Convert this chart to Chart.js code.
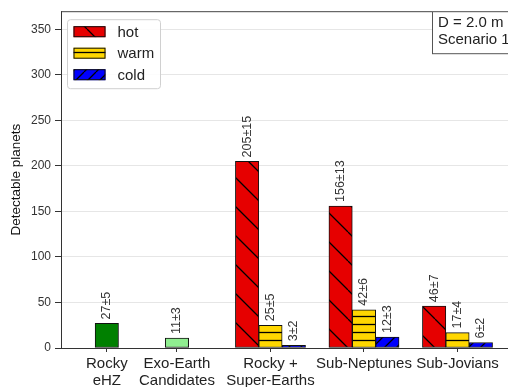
<!DOCTYPE html>
<html>
<head>
<meta charset="utf-8">
<script src="https://cdn.jsdelivr.net/npm/chart.js@4.4.0/dist/chart.umd.min.js"></script>
<style>
  html, body { margin: 0; padding: 0; background: #fff; overflow: hidden; }
</style>
</head>
<body>
<canvas id="planetChart" width="508" height="387"></canvas>
<script>
// Categorias do eixo x e as suas posições
const categories = [['Rocky', 'eHZ'], ['Exo-Earth', 'Candidates'], ['Rocky +', 'Super-Earths'], ['Sub-Neptunes'], ['Sub-Jovians']];
const categoryPos = [0, 0.75, 1.75, 2.75, 3.75];
const yTicks = [0, 50, 100, 150, 200, 250, 300, 350];

// Valores
const rockyEhzValues = [27];
const rockyEhzLabels = ['27±5'];
const exoEarthValues = [11];
const exoEarthLabels = ['11±3'];
const hotValues = [205, 156, 46];
const hotLabels = ['205±15', '156±13', '46±7'];
const warmValues = [25, 42, 17];
const warmLabels = ['25±5', '42±6', '17±4'];
const coldValues = [3, 12, 6];
const coldLabels = ['3±2', '12±3', '6±2'];

const tempNames = ['hot', 'warm', 'cold'];
const infoLines = ['D = 2.0 m', 'Scenario 1'];

const FONT = "'Liberation Sans', Arial, sans-serif";

// Padrões de tracejado (hatch)
function makeHatch(color, kind, size) {
    const c = document.createElement('canvas');
    c.width = size;
    c.height = size;
    const g = c.getContext('2d');
    g.fillStyle = color;
    g.fillRect(0, 0, size, size);
    g.strokeStyle = '#000';
    g.lineWidth = 1.3;
    g.beginPath();
    if (kind === '-') {
        g.moveTo(0, size / 2 + 0.5);
        g.lineTo(size, size / 2 + 0.5);
    } else {
        for (let k = -1; k <= 1; k++) {
            if (kind === '\\') {
                g.moveTo(k * size, 0);
                g.lineTo(k * size + size, size);
            } else {
                g.moveTo(k * size, size);
                g.lineTo(k * size + size, 0);
            }
        }
    }
    g.stroke();
    return g.createPattern(c, 'repeat');
}

const hotFill = makeHatch('#e60000', '\\', 29);
const warmFill = makeHatch('#ffd700', '-', 8);
const coldFill = makeHatch('#0000ff', '/', 12);
const tempFills = [hotFill, warmFill, coldFill];

const groupPos = categoryPos.slice(2);

function barDataset(values, labels, offset, positions, fill) {
    return {
        data: values.map((v, i) => ({ x: positions[i] + offset, y: v })),
        valueLabels: labels,
        backgroundColor: fill,
        borderColor: '#111',
        borderWidth: 1,
        borderSkipped: false,
        grouped: false,
        barPercentage: 1,
        categoryPercentage: 1
    };
}

// Rótulos verticais acima das barras
const valueLabelPlugin = {
    id: 'valueLabels',
    afterDatasetsDraw(chart) {
        const ctx = chart.ctx;
        ctx.save();
        ctx.fillStyle = '#333';
        ctx.font = '12.5px ' + FONT;
        ctx.textAlign = 'left';
        ctx.textBaseline = 'middle';
        chart.data.datasets.forEach((ds, di) => {
            chart.getDatasetMeta(di).data.forEach((el, i) => {
                ctx.save();
                ctx.translate(el.x, el.y - 4);
                ctx.rotate(-Math.PI / 2);
                ctx.fillText(ds.valueLabels[i], 0, 0);
                ctx.restore();
            });
        });
        ctx.restore();
    }
};

// Moldura, legenda e caixa de texto
const decorPlugin = {
    id: 'decor',
    afterDraw(chart) {
        const ctx = chart.ctx;
        const a = chart.chartArea;
        ctx.save();
        // linha de cima
        ctx.strokeStyle = '#444';
        ctx.lineWidth = 1;
        ctx.beginPath();
        ctx.moveTo(a.left, a.top + 0.5);
        ctx.lineTo(a.right, a.top + 0.5);
        ctx.stroke();

        // caixa de texto no canto superior direito
        const bx = a.right - 76;
        ctx.fillStyle = '#fff';
        ctx.fillRect(bx, a.top, 100, 42);
        ctx.strokeStyle = '#555';
        ctx.strokeRect(bx + 0.5, a.top + 0.5, 100, 42);
        ctx.fillStyle = '#222';
        ctx.font = '15px ' + FONT;
        ctx.textBaseline = 'middle';
        ctx.textAlign = 'left';
        infoLines.forEach((t, i) => ctx.fillText(t, bx + 6, a.top + 12 + i * 17));

        // legenda
        const lx = a.left + 6.5, ly = a.top + 8.5, lw = 93, lh = 69;
        ctx.fillStyle = 'rgba(255,255,255,0.85)';
        ctx.strokeStyle = '#d0d0d0';
        ctx.beginPath();
        ctx.roundRect(lx, ly, lw, lh, 3);
        ctx.fill();
        ctx.stroke();
        tempNames.forEach((name, i) => {
            const cy = ly + 12 + i * 21.5;
            ctx.fillStyle = tempFills[i];
            ctx.fillRect(lx + 6, cy - 5.5, 32, 11);
            ctx.strokeStyle = '#111';
            ctx.strokeRect(lx + 6.5, cy - 5, 31, 10);
            ctx.fillStyle = '#222';
            ctx.font = '15px ' + FONT;
            ctx.fillText(name, lx + 50, cy + 1);
        });
        ctx.restore();
    }
};

const ctx = document.getElementById('planetChart').getContext('2d');
const planetChart = new Chart(ctx, {
    type: 'bar',
    data: {
        datasets: [
            barDataset(rockyEhzValues, rockyEhzLabels, 0, [categoryPos[0]], '#008000'),
            barDataset(exoEarthValues, exoEarthLabels, 0, [categoryPos[1]], '#90ee90'),
            barDataset(hotValues, hotLabels, -0.25, groupPos, hotFill),
            barDataset(warmValues, warmLabels, 0, groupPos, warmFill),
            barDataset(coldValues, coldLabels, 0.25, groupPos, coldFill)
        ]
    },
    options: {
        responsive: false,
        animation: false,
        devicePixelRatio: 1,
        layout: { padding: { top: 8, right: 0, left: 0, bottom: 0 } },
        plugins: {
            legend: { display: false },
            tooltip: { enabled: false }
        },
        scales: {
            x: {
                type: 'linear',
                min: -0.49,
                max: 4.29,
                offset: false,
                afterBuildTicks: (axis) => { axis.ticks = categoryPos.map(v => ({ value: v })); },
                afterFit: (axis) => { axis.height = 39; },
                ticks: {
                    autoSkip: false,
                    maxRotation: 0,
                    padding: 4,
                    color: '#222',
                    font: { family: FONT, size: 15, lineHeight: 1.1 },
                    callback: (value, index) => categories[index]
                },
                grid: { drawOnChartArea: false, drawTicks: true, tickLength: 4, tickColor: '#333', offset: false },
                border: { color: '#333', width: 1 }
            },
            y: {
                min: 0,
                max: 370,
                afterBuildTicks: (axis) => { axis.ticks = yTicks.map(v => ({ value: v })); },
                afterFit: (axis) => { axis.width = 61; },
                ticks: {
                    padding: 4,
                    color: '#333',
                    font: { family: FONT, size: 12 }
                },
                grid: { color: '#e6e6e6', lineWidth: 1, tickColor: '#333', tickLength: 6 },
                border: { color: '#333', width: 1 },
                title: {
                    display: true,
                    text: 'Detectable planets',
                    color: '#111',
                    font: { family: FONT, size: 13.5 },
                    padding: { top: 8, bottom: 0 }
                }
            }
        }
    },
    plugins: [valueLabelPlugin, decorPlugin]
});
</script>
</body>
</html>
